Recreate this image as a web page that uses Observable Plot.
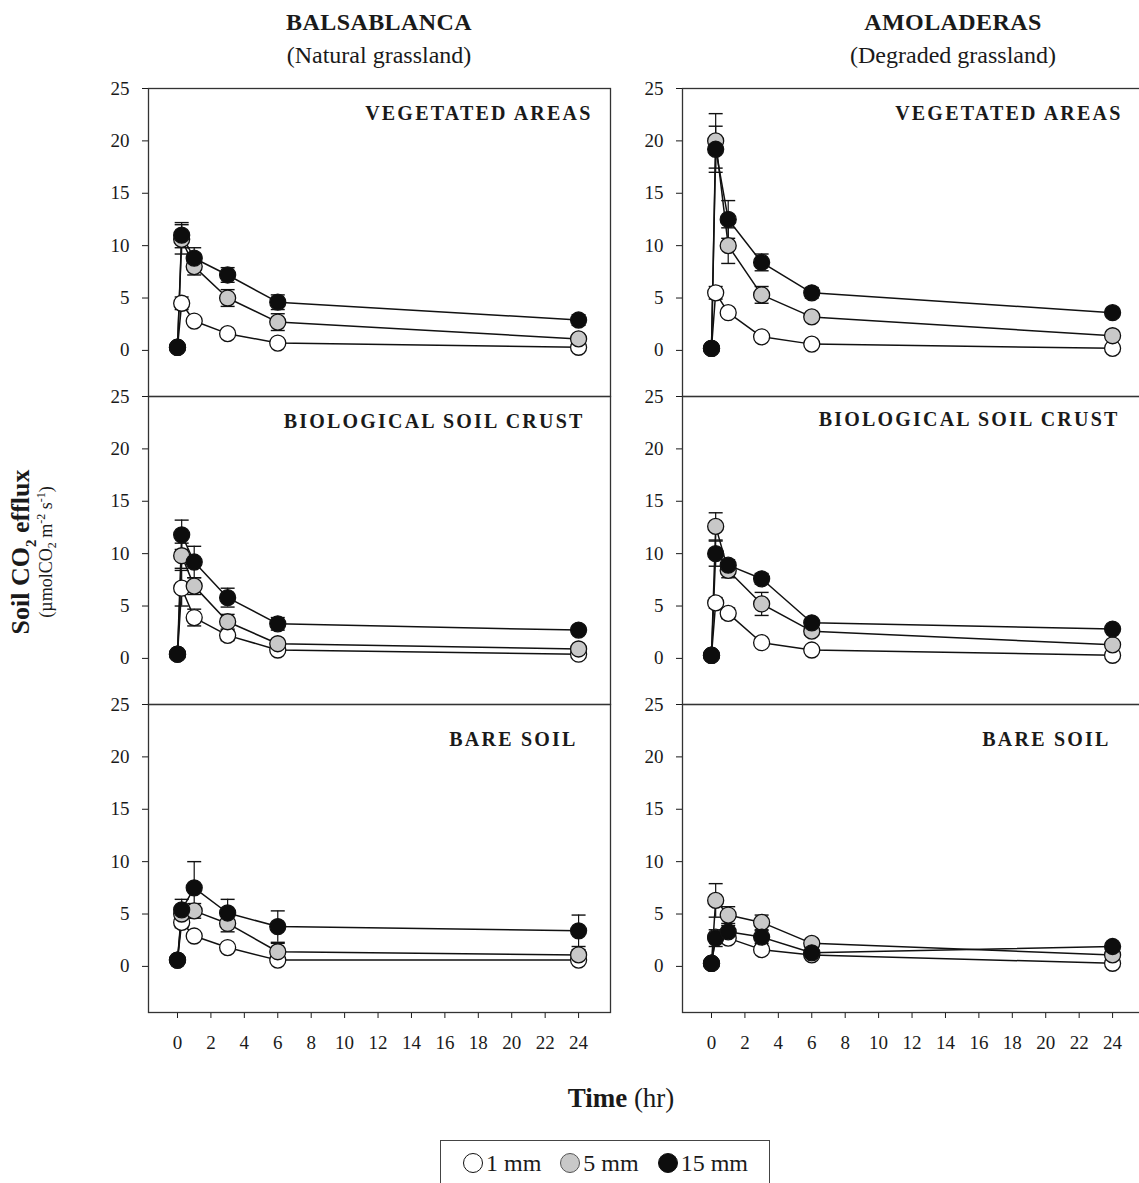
<!DOCTYPE html>
<html><head><meta charset="utf-8">
<script src="https://cdn.jsdelivr.net/npm/d3@7"></script>
<script src="https://cdn.jsdelivr.net/npm/@observablehq/plot@0.6"></script>
<style>
body{margin:0;background:#fff;}
#root{position:relative;width:1139px;height:1183px;overflow:hidden;font-family:"Liberation Serif","Times New Roman",serif;color:#1a1a1a;}
.abs{position:absolute;white-space:nowrap;}
.ctr{transform:translate(-50%,-50%);}
</style></head><body><div id="root"></div>
<script>
// ---------- data ----------
const TIMES = [0, 0.25, 1, 3, 6, 24];
const SERIES = ["1 mm", "5 mm", "15 mm"];
const FILLS = ["#ffffff", "#c8c8c8", "#0d0d0d"];
const Y_TICKS = [0, 5, 10, 15, 20, 25];
const X_TICKS = [0, 2, 4, 6, 8, 10, 12, 14, 16, 18, 20, 22, 24];
const SITES = ["BALSABLANCA", "AMOLADERAS"];
const SITE_SUB = ["(Natural grassland)", "(Degraded grassland)"];
const COVERS = ["VEGETATED AREAS", "BIOLOGICAL SOIL CRUST", "BARE SOIL"];

// Balsablanca – vegetated areas
const BAL_VEG_1 = [0.3, 4.5, 2.8, 1.6, 0.7, 0.3];
const BAL_VEG_1_SE = [0, 0.6, 0.4, 0.3, 0.3, 0.3];
const BAL_VEG_5 = [0.3, 10.6, 8.0, 5.0, 2.7, 1.1];
const BAL_VEG_5_SE = [0, 1.4, 0.8, 0.8, 0.8, 0.4];
const BAL_VEG_15 = [0.3, 11.0, 8.8, 7.2, 4.6, 2.9];
const BAL_VEG_15_SE = [0, 1.2, 1.0, 0.7, 0.7, 0.5];
// Amoladeras – vegetated areas
const AMO_VEG_1 = [0.2, 5.5, 3.6, 1.3, 0.6, 0.2];
const AMO_VEG_1_SE = [0, 0.6, 0.4, 0.3, 0.2, 0.1];
const AMO_VEG_5 = [0.2, 20.0, 10.0, 5.3, 3.2, 1.4];
const AMO_VEG_5_SE = [0, 2.6, 1.7, 0.8, 0.4, 0.4];
const AMO_VEG_15 = [0.2, 19.2, 12.5, 8.4, 5.5, 3.6];
const AMO_VEG_15_SE = [0, 2.2, 1.8, 0.8, 0.5, 0.4];
// Balsablanca – biological soil crust
const BAL_BSC_1 = [0.4, 6.7, 3.9, 2.2, 0.8, 0.4];
const BAL_BSC_1_SE = [0, 1.7, 0.8, 0.5, 0.3, 0.2];
const BAL_BSC_5 = [0.4, 9.8, 6.9, 3.5, 1.4, 0.9];
const BAL_BSC_5_SE = [0, 1.2, 0.8, 0.7, 0.4, 0.3];
const BAL_BSC_15 = [0.4, 11.8, 9.2, 5.8, 3.3, 2.7];
const BAL_BSC_15_SE = [0, 1.4, 1.5, 0.9, 0.6, 0.4];
// Amoladeras – biological soil crust
const AMO_BSC_1 = [0.3, 5.3, 4.3, 1.5, 0.8, 0.3];
const AMO_BSC_1_SE = [0, 0.5, 0.5, 0.3, 0.2, 0.1];
const AMO_BSC_5 = [0.3, 12.6, 8.4, 5.2, 2.6, 1.3];
const AMO_BSC_5_SE = [0, 1.3, 0.7, 1.1, 0.4, 0.3];
const AMO_BSC_15 = [0.3, 10.0, 8.9, 7.6, 3.4, 2.8];
const AMO_BSC_15_SE = [0, 1.2, 0.5, 0.5, 0.4, 0.3];
// Balsablanca – bare soil
const BAL_BARE_1 = [0.6, 4.2, 2.9, 1.8, 0.6, 0.6];
const BAL_BARE_1_SE = [0, 0.5, 0.3, 0.3, 0.2, 0.2];
const BAL_BARE_5 = [0.6, 5.0, 5.3, 4.1, 1.4, 1.1];
const BAL_BARE_5_SE = [0, 0.8, 0.7, 0.8, 0.8, 0.5];
const BAL_BARE_15 = [0.6, 5.4, 7.5, 5.1, 3.8, 3.4];
const BAL_BARE_15_SE = [0, 1.0, 2.5, 1.3, 1.5, 1.5];
// Amoladeras – bare soil
const AMO_BARE_1 = [0.3, 2.8, 2.7, 1.6, 1.1, 0.3];
const AMO_BARE_1_SE = [0, 0.4, 0.4, 0.3, 0.2, 0.1];
const AMO_BARE_5 = [0.3, 6.3, 4.9, 4.2, 2.2, 1.1];
const AMO_BARE_5_SE = [0, 1.6, 0.8, 0.7, 0.4, 0.3];
const AMO_BARE_15 = [0.3, 2.7, 3.3, 2.8, 1.3, 1.9];
const AMO_BARE_15_SE = [0, 0.8, 0.6, 0.6, 0.3, 0.3];

// ---------- layout ----------
const SERIF = "'Liberation Serif','Times New Roman',serif";
const FRAME_X = [148, 682];
const FRAME_Y = [88, 396, 704];
const FRAME_W = 462, FRAME_H = 308;

const PANELS = [
  {col: 0, row: 0, means: [BAL_VEG_1, BAL_VEG_5, BAL_VEG_15], ses: [BAL_VEG_1_SE, BAL_VEG_5_SE, BAL_VEG_15_SE], dx: -18, dy: 17},
  {col: 1, row: 0, means: [AMO_VEG_1, AMO_VEG_5, AMO_VEG_15], ses: [AMO_VEG_1_SE, AMO_VEG_5_SE, AMO_VEG_15_SE], dx: -22, dy: 17},
  {col: 0, row: 1, means: [BAL_BSC_1, BAL_BSC_5, BAL_BSC_15], ses: [BAL_BSC_1_SE, BAL_BSC_5_SE, BAL_BSC_15_SE], dx: -26, dy: 17},
  {col: 1, row: 1, means: [AMO_BSC_1, AMO_BSC_5, AMO_BSC_15], ses: [AMO_BSC_1_SE, AMO_BSC_5_SE, AMO_BSC_15_SE], dx: -25, dy: 15},
  {col: 0, row: 2, means: [BAL_BARE_1, BAL_BARE_5, BAL_BARE_15], ses: [BAL_BARE_1_SE, BAL_BARE_5_SE, BAL_BARE_15_SE], dx: -33, dy: 27},
  {col: 1, row: 2, means: [AMO_BARE_1, AMO_BARE_5, AMO_BARE_15], ses: [AMO_BARE_1_SE, AMO_BARE_5_SE, AMO_BARE_15_SE], dx: -34, dy: 27}
];

const CAP = {draw(ctx, size) { const w = Math.sqrt(size / Math.PI); ctx.moveTo(-w, 0); ctx.lineTo(w, 0); }};

const root = document.getElementById("root");

function makePanel(cfg) {
  const rows = [];
  SERIES.forEach((s, k) => {
    TIMES.forEach((t, i) => {
      const m = cfg.means[k][i], se = cfg.ses[k][i];
      rows.push({series: s, t, m, se, lo: m - se, hi: m + se});
    });
  });
  const err = rows.filter(d => d.se > 0);
  const showX = cfg.row === 2;
  const ML = 60, MR = 10, MT = 14, MB = showX ? 60 : 14;
  const plot = Plot.plot({
    width: ML + FRAME_W + MR,
    height: MT + FRAME_H + MB,
    marginLeft: ML, marginRight: MR, marginTop: MT, marginBottom: MB,
    style: {background: "transparent", overflow: "visible", fontFamily: SERIF, fontSize: "19px", color: "#1a1a1a"},
    x: {domain: [-1.735, 25.91], ticks: X_TICKS, tickSize: 6, tickPadding: 17, label: null, axis: showX ? "bottom" : null},
    y: {domain: [-4.4, 25], ticks: Y_TICKS, tickSize: 6, tickPadding: 13, label: null},
    color: {domain: SERIES, range: FILLS},
    marks: [
      Plot.ruleX(err, {x: "t", y1: "lo", y2: "hi", stroke: "#111", strokeWidth: 1.2}),
      Plot.dot(err, {x: "t", y: "hi", symbol: CAP, r: 7, stroke: "#111", strokeWidth: 1.4}),
      Plot.dot(err, {x: "t", y: "lo", symbol: CAP, r: 7, stroke: "#111", strokeWidth: 1.4}),
      Plot.line(rows, {x: "t", y: "m", z: "series", stroke: "#111", strokeWidth: 1.5}),
      Plot.dot(rows, {x: "t", y: "m", r: 8, fill: "series", stroke: "#111", strokeWidth: 1.3}),
      Plot.frame({stroke: "#333", strokeWidth: 1.3}),
      Plot.text([COVERS[cfg.row]], {frameAnchor: "top-right", dx: cfg.dx, dy: cfg.dy, text: d => d, fontWeight: "bold", fontSize: 20, fill: "#1a1a1a"})
    ]
  });
  plot.style.position = "absolute";
  plot.style.left = (FRAME_X[cfg.col] - ML) + "px";
  plot.style.top = (FRAME_Y[cfg.row] - MT) + "px";
  plot.querySelectorAll("text").forEach(el => {
    if (el.textContent === COVERS[cfg.row]) el.style.letterSpacing = "2.2px";
  });
  root.appendChild(plot);
}
PANELS.forEach(makePanel);

function addText(html, x, y, css) {
  const d = document.createElement("div");
  d.className = "abs ctr";
  d.style.left = x + "px"; d.style.top = y + "px";
  d.innerHTML = html;
  Object.assign(d.style, css || {});
  root.appendChild(d);
  return d;
}
// site titles
const TITLE_X = [379, 953];
SITES.forEach((s, i) => {
  addText(s, TITLE_X[i], 22, {fontWeight: "bold", fontSize: "24px", letterSpacing: "0.4px"});
  addText(SITE_SUB[i], TITLE_X[i], 55, {fontSize: "24px"});
});
// y title
addText("Soil CO<sub style='font-size:15px'>2</sub> efflux", 23, 552, {fontWeight: "bold", fontSize: "26px", transform: "translate(-50%,-50%) rotate(-90deg)"});
addText("(&micro;molCO<sub style='font-size:12px'>2</sub> m<sup style='font-size:12px'>-2</sup> s<sup style='font-size:12px'>-1</sup>)", 47, 552, {fontSize: "18px", transform: "translate(-50%,-50%) rotate(-90deg)"});
// x title
addText("<b>Time</b> (hr)", 621, 1098, {fontSize: "27px"});

// legend
const leg = document.createElement("div");
leg.className = "abs";
Object.assign(leg.style, {left: "440px", top: "1140px", width: "330px", height: "46px", border: "1.3px solid #444", boxSizing: "border-box", display: "flex", alignItems: "center", justifyContent: "center", gap: "18px", fontSize: "24px"});
SERIES.forEach((s, k) => {
  const item = document.createElement("span");
  item.style.display = "inline-flex"; item.style.alignItems = "center";
  item.innerHTML = `<svg width="22" height="22" style="margin-right:2px"><circle cx="11" cy="11" r="9.5" fill="${FILLS[k]}" stroke="${k === 1 ? '#555' : '#111'}" stroke-width="1"/></svg>${s}`;
  leg.appendChild(item);
});
root.appendChild(leg);
</script></body></html>
